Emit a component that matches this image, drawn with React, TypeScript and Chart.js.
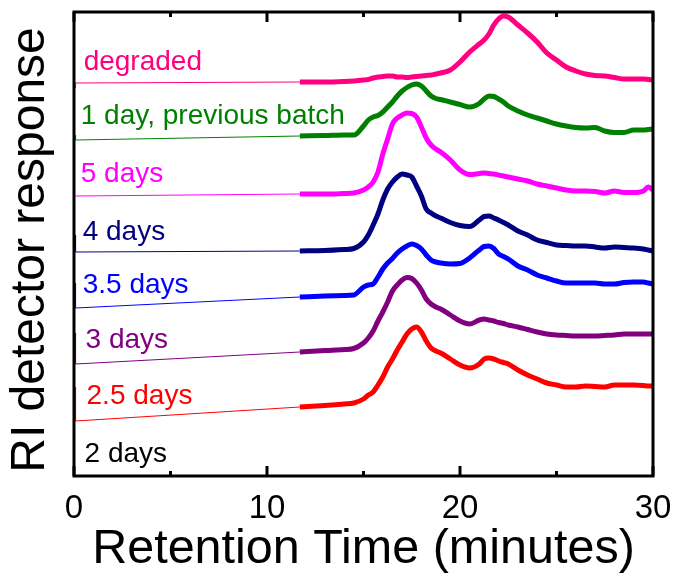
import { useEffect, useRef } from "react";
import { Chart, registerables } from "chart.js";

Chart.register(...registerables);

// Retention time grid (minutes) for the recorded part of every chromatogram
const retentionTime = [
  11.7, 13, 14, 14.5, 15, 15.25, 15.5, 15.75, 16, 16.25, 16.5, 16.75, 17, 17.25, 17.5, 17.75,
  18, 18.25, 18.5, 18.75, 19, 19.5, 20, 20.5, 21, 21.25, 21.5, 21.75, 22, 22.25, 22.5, 23,
  23.5, 24, 24.5, 25, 25.5, 26, 26.5, 27, 27.5, 28, 28.5, 29, 29.5, 29.75, 30,
];

// Offset RI responses (arbitrary units), one stacked trace per sample
const degraded = [
  39.4, 39.4, 39.45, 39.5, 39.6, 39.65, 39.8, 39.9, 39.95, 40.0, 40.0, 39.9, 39.9, 39.85, 39.9, 39.95,
  40.0, 40.05, 40.1, 40.2, 40.3, 40.6, 41.4, 42.4, 43.2, 43.6, 44.2, 45.1, 45.7, 46.0, 45.9, 45.1,
  44.3, 43.4, 42.3, 41.6, 40.9, 40.5, 40.2, 40.05, 40.0, 39.85, 39.7, 39.7, 39.7, 39.65, 39.6,
];
const oneDayPrevious = [
  34.0, 34.05, 34.1, 34.1, 35.0, 35.6, 35.9, 36.05, 36.4, 36.9, 37.4, 38.0, 38.5, 38.85, 39.1, 39.2,
  39.0, 38.5, 38.0, 37.75, 37.65, 37.4, 37.15, 36.9, 37.25, 37.7, 38.0, 37.95, 37.7, 37.4, 37.0, 36.5,
  36.1, 35.8, 35.5, 35.2, 35.0, 34.85, 34.8, 34.85, 34.5, 34.35, 34.35, 34.6, 34.6, 34.65, 34.7,
];
const fiveDays = [
  28.2, 28.2, 28.25, 28.3, 28.6, 28.9, 29.4, 30.4, 32.2, 33.7, 35.2, 35.8, 36.1, 36.3, 36.25, 35.9,
  34.9, 33.8, 33.1, 32.7, 32.4, 31.6, 30.6, 30.15, 30.25, 30.3, 30.25, 30.2, 30.1, 30.0, 29.9, 29.7,
  29.5, 29.2, 29.0, 28.8, 28.6, 28.5, 28.5, 28.45, 28.3, 28.5, 28.35, 28.35, 28.5, 28.9, 28.6,
];
const fourDays = [
  22.5, 22.55, 22.65, 22.75, 23.4, 24.1, 25.1, 26.2, 27.6, 28.7, 29.4, 29.9, 30.2, 30.1, 29.9, 29.0,
  28.0, 26.7, 26.3, 26.0, 25.8, 25.35, 25.05, 24.95, 25.6, 25.95, 26.0, 25.8, 25.6, 25.35, 25.1, 24.5,
  24.1, 23.6, 23.35, 23.1, 23.05, 23.0, 23.0, 22.9, 22.8, 22.9, 22.85, 22.8, 22.7, 22.6, 22.5,
];
const threePointFiveDays = [
  17.9, 18.0, 18.05, 18.1, 18.9, 19.1, 19.2, 19.9, 20.7, 21.3, 21.75, 22.3, 22.7, 23.0, 23.2, 23.05,
  22.7, 22.1, 21.6, 21.4, 21.3, 21.2, 21.25, 21.8, 22.6, 22.95, 23.0, 22.75, 22.2, 21.95, 21.7, 21.0,
  20.6, 20.1, 19.8, 19.5, 19.3, 19.3, 19.3, 19.3, 19.2, 19.2, 19.35, 19.4, 19.4, 19.3, 19.2,
];
const threeDays = [
  12.4, 12.55, 12.65, 12.75, 13.3, 13.8, 14.5, 15.5, 16.4, 17.4, 18.5, 19.1, 19.6, 19.85, 19.75, 19.3,
  18.6, 17.7, 17.2, 16.9, 16.7, 16.1, 15.5, 15.2, 15.6, 15.7, 15.6, 15.5, 15.35, 15.25, 15.1, 14.9,
  14.65, 14.4, 14.2, 14.1, 14.05, 14.0, 14.0, 14.0, 14.05, 14.1, 14.2, 14.2, 14.2, 14.2, 14.2,
];
const twoPointFiveDays = [
  6.9, 7.05, 7.2, 7.3, 7.7, 8.1, 8.4, 9.1, 9.9, 10.9, 11.7, 12.6, 13.4, 14.2, 14.7, 14.9,
  14.4, 13.5, 12.8, 12.5, 12.3, 11.7, 11.1, 10.8, 11.2, 11.7, 11.8, 11.7, 11.5, 11.35, 11.2, 10.6,
  10.1, 9.7, 9.3, 9.1, 8.9, 8.9, 9.0, 8.95, 8.9, 9.1, 9.1, 9.1, 9.05, 9.0, 9.0,
];

// Lead-in baseline before the recorded window: injection spike, start, end
const leadInTime = [0.08, 0.08, 11.7];
const degradedLeadIn = [38.8, 39.3, 39.4];
const oneDayPreviousLeadIn = [34.1, 33.6, 34.0];
const fiveDaysLeadIn = [28.0, 28.0, 28.2];
const fourDaysLeadIn = [24.1, 22.4, 22.5];
const threePointFiveDaysLeadIn = [19.3, 16.8, 17.9];
const threeDaysLeadIn = [14.3, 11.2, 12.4];
const twoPointFiveDaysLeadIn = [8.9, 5.5, 6.9];

// Sample names, colours and where each name sits (time, response)
const sampleNames = [
  "degraded",
  "1 day, previous batch",
  "5 days",
  "4 days",
  "3.5 days",
  "3 days",
  "2.5 days",
  "2 days",
];
const sampleColors = [
  "#ff0080",
  "#008000",
  "#ff00ff",
  "#000080",
  "#0000ff",
  "#800080",
  "#ff0000",
  "#000000",
];
const nameTime = [0.5, 0.35, 0.35, 0.45, 0.45, 0.6, 0.65, 0.55];
const nameResponse = [40.6, 35.2, 29.4, 23.6, 18.3, 12.8, 7.2, 1.4];

const traces = [degraded, oneDayPrevious, fiveDays, fourDays, threePointFiveDays, threeDays, twoPointFiveDays];
const leadIns = [
  degradedLeadIn,
  oneDayPreviousLeadIn,
  fiveDaysLeadIn,
  fourDaysLeadIn,
  threePointFiveDaysLeadIn,
  threeDaysLeadIn,
  twoPointFiveDaysLeadIn,
];

const majorTicks = [0, 10, 20, 30];
const minorTicks = [5, 15, 25];

const yTitle = "RI detector response";

const FONT = '"Liberation Sans", Arial, Helvetica, sans-serif';

// Boxed frame with inward ticks on top and bottom, the vertical axis title and the sample names
const framePlugin = {
  id: "frameAndNames",
  afterDraw(chart: any) {
    const { ctx, chartArea } = chart;
    const xs = chart.scales.x;
    const ys = chart.scales.y;
    ctx.save();
    ctx.strokeStyle = "#000";
    ctx.lineWidth = 3;
    ctx.strokeRect(chartArea.left, chartArea.top, chartArea.right - chartArea.left, chartArea.bottom - chartArea.top);
    const tick = (v: number, len: number) => {
      const px = xs.getPixelForValue(v);
      ctx.beginPath();
      ctx.moveTo(px, chartArea.bottom);
      ctx.lineTo(px, chartArea.bottom - len);
      ctx.moveTo(px, chartArea.top);
      ctx.lineTo(px, chartArea.top + len);
      ctx.stroke();
    };
    majorTicks.forEach((v) => tick(v, 10));
    minorTicks.forEach((v) => tick(v, 5));

    // vertical axis title, centred a little below the plot's mid-height
    ctx.save();
    ctx.translate(ys.left + 31, (chartArea.top + chartArea.bottom) / 2 + 6);
    ctx.rotate(-Math.PI / 2);
    ctx.font = `48px ${FONT}`;
    ctx.fillStyle = "#000";
    ctx.textAlign = "center";
    ctx.textBaseline = "middle";
    ctx.fillText(yTitle, 0, 0);
    ctx.restore();

    ctx.font = `28px ${FONT}`;
    ctx.textAlign = "left";
    ctx.textBaseline = "alphabetic";
    sampleNames.forEach((name, i) => {
      ctx.fillStyle = sampleColors[i];
      ctx.fillText(name, xs.getPixelForValue(nameTime[i]), ys.getPixelForValue(nameResponse[i]));
    });
    ctx.restore();
  },
};

export default function App() {
  const canvasRef = useRef<HTMLCanvasElement>(null);

  useEffect(() => {
    const canvas = canvasRef.current;
    if (!canvas) return;

    const leadIn = (i: number) => leadInTime.map((t, k) => ({ x: t, y: leadIns[i][k] }));

    const datasets: any[] = [];
    traces.forEach((trace, i) => {
      datasets.push({
        label: sampleNames[i] + " lead-in",
        data: leadIn(i),
        borderColor: sampleColors[i],
        borderWidth: 1,
        pointRadius: 0,
        tension: 0,
      });
      datasets.push({
        label: sampleNames[i],
        data: retentionTime.map((t, k) => ({ x: t, y: trace[k] })),
        borderColor: sampleColors[i],
        borderWidth: 5,
        pointRadius: 0,
        cubicInterpolationMode: "monotone",
        borderJoinStyle: "round",
      });
    });

    const chart = new Chart(canvas, {
      type: "line",
      data: { datasets },
      options: {
        animation: false,
        responsive: false,
        devicePixelRatio: 1,
        layout: { padding: { top: 12, right: 21, bottom: 0, left: 0 } },
        plugins: {
          legend: { display: false },
          tooltip: { enabled: false },
        },
        scales: {
          x: {
            type: "linear",
            min: 0,
            max: 30,
            grid: { display: false },
            border: { display: false },
            ticks: {
              stepSize: 10,
              padding: 5,
              color: "#000",
              maxRotation: 0,
              autoSkip: false,
              font: { family: FONT, size: 33 },
            },
            title: {
              display: true,
              text: "Retention Time (minutes)",
              color: "#000",
              font: { family: FONT, size: 48.5, lineHeight: 1 },
              padding: { top: 0, bottom: 1 },
            },
            afterFit: (scale: any) => {
              scale.height = 99;
              scale.paddingLeft = 0;
              scale.paddingRight = 0;
            },
          },
          y: {
            type: "linear",
            min: 0,
            max: 46.4,
            grid: { display: false },
            border: { display: false },
            ticks: { display: false },
            title: { display: false },
            afterFit: (scale: any) => {
              scale.width = 74;
            },
          },
        },
      } as any,
      plugins: [framePlugin],
    });

    return () => chart.destroy();
  }, []);

  return (
    <div style={{ position: "fixed", left: 0, top: 0, width: 674, height: 575, background: "#fff" }}>
      <canvas ref={canvasRef} width={674} height={575} style={{ display: "block", width: 674, height: 575 }} />
    </div>
  );
}
